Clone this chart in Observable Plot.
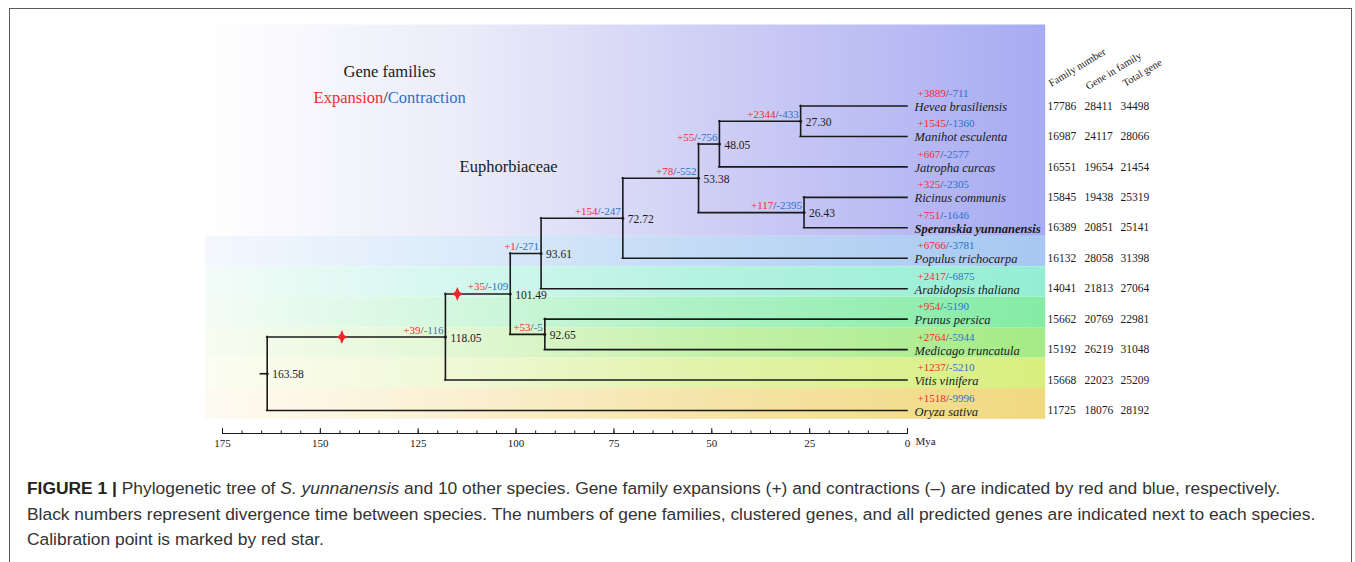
<!DOCTYPE html>
<html><head><meta charset="utf-8">
<script src="https://cdn.jsdelivr.net/npm/d3@7"></script>
<script src="https://cdn.jsdelivr.net/npm/@observablehq/plot@0.6"></script>
<style>
body{margin:0;background:#fff;}
#wrap{position:relative;width:1355px;height:562px;overflow:hidden;background:#fff;}
#border{position:absolute;left:9px;top:8px;width:1343px;height:620px;border:1px solid #5a5a5a;box-sizing:border-box;pointer-events:none;}
#chart{position:absolute;left:0;top:0;}
#caption{position:absolute;left:27px;top:476px;font-family:"Liberation Sans",Arial,sans-serif;font-size:17.4px;line-height:25.5px;color:#333;white-space:nowrap;}
#caption b{color:#222;}
</style></head>
<body><div id="wrap"><div id="chart"></div>
<div id="caption"><b>FIGURE 1 |</b> Phylogenetic tree of <i>S. yunnanensis</i> and 10 other species. Gene family expansions (+) and contractions (–) are indicated by red and blue, respectively.<br>Black numbers represent divergence time between species. The numbers of gene families, clustered genes, and all predicted genes are indicated next to each species.<br>Calibration point is marked by red star.</div>
<div id="border"></div></div>
<script>
// ---------- data ----------
const species = ["Hevea brasiliensis","Manihot esculenta","Jatropha curcas","Ricinus communis","Speranskia yunnanensis","Populus trichocarpa","Arabidopsis thaliana","Prunus persica","Medicago truncatula","Vitis vinifera","Oryza sativa"];
const tipExpansion   = [3889,1545,667,325,751,6766,2417,954,2764,1237,1518];
const tipContraction = [711,1360,2577,2305,1646,3781,6875,5190,5944,5210,9996];
const familyNumber = [17786,16987,16551,15845,16389,16132,14041,15662,15192,15668,11725];
const geneInFamily = [28411,24117,19654,19438,20851,28058,21813,20769,26219,22023,18076];
const totalGene    = [34498,28066,21454,25319,25141,31398,27064,22981,31048,25209,28192];
const tableHeaders = ["Family number","Gene in family","Total gene"];

const nodeIds       = ["n1","n2","n3","n4","n5","n6","n7","n8","n9","n10"];
const nodeAges      = [27.30,48.05,26.43,53.38,72.72,93.61,92.65,101.49,118.05,163.58];
const nodeChildren  = [["Hevea brasiliensis","Manihot esculenta"],["n1","Jatropha curcas"],["Ricinus communis","Speranskia yunnanensis"],["n2","n3"],["n4","Populus trichocarpa"],["n5","Arabidopsis thaliana"],["Prunus persica","Medicago truncatula"],["n6","n7"],["n8","Vitis vinifera"],["n9","Oryza sativa"]];
const nodeExpansion   = [2344,55,117,78,154,1,53,35,39,null];
const nodeContraction = [433,756,2395,552,247,271,5,109,116,null];
const rootStubAge = 165.2;

const calibrationBranch = ["n9","n8"];     // branch carrying the star
const calibrationAge    = [144.5,115.0];   // star position (Mya)

const axisMajor = d3.range(0,176,25);
const axisMinor = d3.range(0,176,5);

const titles = [
  {text:"Gene families", x:132.3, y:-1.13},
  {text:"Expansion/Contraction", x:132.3, y:-0.28},
  {text:"Euphorbiaceae", x:101.9, y:1.99}
];

// background bands (row units) and gradient colours
const panelLeft = 179.4, panelRight = -35.3;
const bandFrom  = [-2.66,4.28,5.28,6.28,7.28,8.28,9.28];
const bandTo    = [4.28,5.28,6.28,7.28,8.28,9.28,10.29];
const bandStops = [
  ["#ffffff","#ececfa","#cfcff5","#a7abf2"],
  ["#f4f8fe","#dcebfa","#c2daf5","#a6c8f1"],
  ["#f3fcf9","#d4f7ee","#b4f2e0","#94eed4"],
  ["#f4fcf6","#d2f7de","#acf1c4","#84eba4"],
  ["#f8fcf2","#e2f7d4","#c4f1aa","#a4eb86"],
  ["#fcfdf2","#f0f8d6","#e2f3aa","#d8ef7e"],
  ["#fefbf2","#faf0d2","#f5e4a8","#f0d97f"]
];

const RED = "#f52a2a", BLUE = "#2a72cc", INK = "#1a1a1a";

// ---------- layout ----------
const pos = new Map(species.map((s,i)=>[s,{x:0,y:i}]));
const nodes = nodeIds.map((id,i)=>({id, age:nodeAges[i], children:nodeChildren[i], exp:nodeExpansion[i], con:nodeContraction[i]}));
for (const n of nodes){
  const ys = n.children.map(c=>pos.get(c).y);
  n.y = (ys[0]+ys[1])/2;
  n.ymin = Math.min(...ys); n.ymax = Math.max(...ys);
  pos.set(n.id,{x:n.age,y:n.y});
}
const vert = nodes.map(n=>({x:n.age,y1:n.ymin,y2:n.ymax}));
const horiz = [];
for (const n of nodes) for (const c of n.children) horiz.push({y:pos.get(c).y, x1:n.age, x2:pos.get(c).x});
const root = nodes[nodes.length-1];
horiz.push({y:root.y, x1:rootStubAge, x2:root.age});

const tips = species.map((s,i)=>({name:s,row:i,label:`+${tipExpansion[i]}/-${tipContraction[i]}`,
  fam:familyNumber[i], gif:geneInFamily[i], tot:totalGene[i]}));
const branchLabels = nodes.filter(n=>n.exp!==null).map(n=>({x:n.age,y:n.y,label:`+${n.exp}/-${n.con}`}));
const stars = calibrationBranch.map((id,i)=>({x:calibrationAge[i], y:pos.get(id).y}));

const star4 = {draw(ctx,size){
  const r = Math.sqrt(size/Math.PI), h=r, w=r*0.85, k=r*0.3;
  ctx.moveTo(0,-h); ctx.lineTo(k,-k); ctx.lineTo(w,0); ctx.lineTo(k,k);
  ctx.lineTo(0,h); ctx.lineTo(-k,k); ctx.lineTo(-w,0); ctx.lineTo(-k,-k); ctx.closePath();
}};

const bandMarks = bandFrom.map((f,i)=>Plot.rect([i],{x1:panelLeft,x2:panelRight,y1:()=>bandFrom[i],y2:()=>bandTo[i],fill:`url(#band${i})`}));

const chart = Plot.plot({
  width:1355, height:460,
  marginLeft:222, marginRight:448, marginTop:0, marginBottom:27,
  x:{domain:[175,0], axis:null},
  y:{domain:[0,10], range:[105.5,410], axis:null},
  style:{fontFamily:"'Liberation Serif','Times New Roman',serif", fontSize:"11px", background:"transparent", overflow:"visible", color:INK},
  marks:[
    ...bandMarks,
    Plot.frame({anchor:"bottom", stroke:INK, strokeWidth:1}),
    Plot.axisX({ticks:axisMinor, tickSize:2.5, dy:-2.5, tickFormat:()=>"" , stroke:INK}),
    Plot.axisX({ticks:axisMajor, tickSize:5, dy:-5, tickFormat:()=>"", stroke:INK}),
    Plot.axisX({ticks:axisMajor, tickSize:0, tickPadding:6, fontSize:11, fill:INK}),
    Plot.text(["Mya"],{x:()=>0, frameAnchor:"bottom", dx:8, dy:11, textAnchor:"start", fontSize:11, fill:INK}),
    Plot.ruleX(vert,{x:"x",y1:"y1",y2:"y2",stroke:INK,strokeWidth:1.6,strokeLinecap:"square"}),
    Plot.ruleY(horiz,{y:"y",x1:"x1",x2:"x2",stroke:INK,strokeWidth:1.6,strokeLinecap:"square"}),
    Plot.dot(nodes,{x:"age",y:"y",r:1.5,fill:INK}),
    Plot.dot(stars,{x:"x",y:"y",r:7,symbol:star4,fill:"#e8262b"}),
    Plot.text(nodes,{x:"age",y:"y",text:d=>d.age.toFixed(2),dx:5,dy:1,textAnchor:"start",fontSize:11.5,fill:INK}),
    Plot.text(branchLabels,{x:"x",y:"y",text:"label",dx:-2,dy:-7,textAnchor:"end",fontSize:11}),
    Plot.text(tips,{x:()=>0,y:"row",text:"label",dx:10,dy:-12.5,textAnchor:"start",fontSize:11}),
    Plot.text(tips.filter(d=>d.name!=="Speranskia yunnanensis"),{x:()=>0,y:"row",text:"name",dx:7,dy:1,textAnchor:"start",fontSize:12.5,fontStyle:"italic",fill:INK}),
    Plot.text(tips.filter(d=>d.name==="Speranskia yunnanensis"),{x:()=>0,y:"row",text:"name",dx:7,dy:1,textAnchor:"start",fontSize:12.5,fontStyle:"italic",fontWeight:"bold",fill:INK}),
    Plot.text(tips,{x:()=>0,y:"row",text:d=>String(d.fam),dx:140,dy:0,textAnchor:"start",fontSize:11.5,fill:INK}),
    Plot.text(tips,{x:()=>0,y:"row",text:d=>String(d.gif),dx:177,dy:0,textAnchor:"start",fontSize:11.5,fill:INK}),
    Plot.text(tips,{x:()=>0,y:"row",text:d=>String(d.tot),dx:213,dy:0,textAnchor:"start",fontSize:11.5,fill:INK}),
    Plot.text([tableHeaders[0]],{x:()=>0,y:()=>0,text:d=>d,dx:142,dy:-22,rotate:-31,textAnchor:"start",fontSize:10.5,fill:INK}),
    Plot.text([tableHeaders[1]],{x:()=>0,y:()=>0,text:d=>d,dx:179,dy:-19,rotate:-31,textAnchor:"start",fontSize:10.5,fill:INK}),
    Plot.text([tableHeaders[2]],{x:()=>0,y:()=>0,text:d=>d,dx:216,dy:-22,rotate:-31,textAnchor:"start",fontSize:10.5,fill:INK}),
    Plot.text(titles,{x:"x",y:"y",text:"text",fontSize:16.5,fill:INK})
  ]
});

// gradients
const defs = d3.select(chart).insert("defs",":first-child");
bandStops.forEach((stops,i)=>{
  const g = defs.append("linearGradient").attr("id",`band${i}`).attr("x1","0").attr("x2","1").attr("y1","0").attr("y2","0");
  const offs = [0,0.3,0.6,1];
  stops.forEach((c,j)=>g.append("stop").attr("offset",offs[j]).attr("stop-color",c));
});

// two-tone labels
d3.select(chart).selectAll("text").each(function(){
  const t = this.textContent;
  let m = t.match(/^(\+\d+)\/(-\d+)$/);
  if (m){
    const s = d3.select(this); s.text(null);
    s.append("tspan").attr("fill",RED).text(m[1]);
    s.append("tspan").attr("fill","#2a3a6a").text("/");
    s.append("tspan").attr("fill",BLUE).text(m[2]);
  } else if (t === "Expansion/Contraction"){
    const s = d3.select(this); s.text(null);
    s.append("tspan").attr("fill",RED).text("Expansion");
    s.append("tspan").attr("fill",INK).text("/");
    s.append("tspan").attr("fill",BLUE).text("Contraction");
  }
});

document.getElementById("chart").appendChild(chart);
</script>
</body></html>
